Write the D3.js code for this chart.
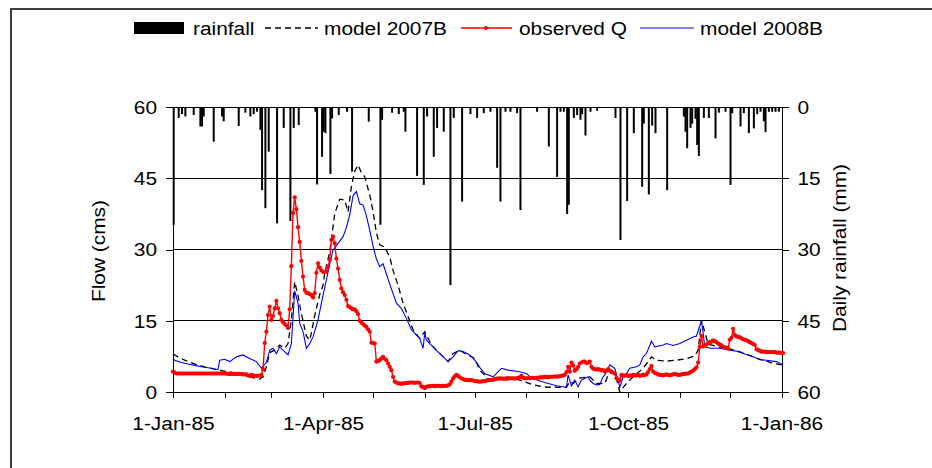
<!DOCTYPE html>
<html>
<head>
<meta charset="utf-8">
<script src="https://cdn.jsdelivr.net/npm/d3@7"></script>
<style>
  body { margin: 0; background: #fff; }
  svg { display: block; }
  text { font-family: "Liberation Sans", Arial, sans-serif; font-size: 18px; fill: #000; }
</style>
</head>
<body>
<svg id="chart" width="932" height="468"></svg>
<script>
// ---- data -------------------------------------------------------------
const startDay = Date.UTC(1985, 0, 1);
const endDay = Date.UTC(1986, 0, 1);

const tickLabels = ["1-Jan-85", "1-Apr-85", "1-Jul-85", "1-Oct-85", "1-Jan-86"];
const flowTicks = [0, 15, 30, 45, 60];
const rainTicks = [0, 15, 30, 45, 60];

const legendNames = ["rainfall", "model 2007B", "observed Q", "model 2008B"];

// daily rainfall (day of year from 1 Jan 1985, mm)
const rainDay = [0, 3, 5, 7, 12, 16, 17, 18, 24, 29, 30, 39, 43, 46, 48, 50, 52, 53, 55, 57,
  62, 66, 70, 72, 75, 85, 86, 89, 90, 91, 94, 95, 99, 104, 107, 117, 124, 125, 131, 135,
  138, 139, 146, 150, 152, 156, 158, 162, 166, 168, 173, 178, 182, 186, 190, 194, 196, 199, 202, 206,
  208, 218, 225, 230, 232, 234, 236, 237, 240, 242, 244, 245, 247, 250, 254, 265, 268, 272, 276, 281,
  282, 285, 287, 289, 296, 306, 307, 308, 310, 311, 313, 314, 315, 318, 321, 325, 327, 331, 334, 335,
  340, 342, 345, 348, 350, 352, 354, 355, 357, 359, 361, 363];
const rainMm = [24.8, 2.3, 1.5, 2.0, 1.7, 4.1, 4.1, 2.0, 7.3, 2.0, 3.0, 4.0, 1.2, 2.0, 1.5, 1.0, 4.8, 17.5, 21.3, 9.4,
  24.5, 4.4, 24.0, 4.4, 3.8, 1.0, 16.3, 10.5, 5.2, 5.5, 14.1, 2.4, 1.7, 1.0, 13.6, 3.1, 24.8, 2.7, 1.2, 1.5,
  1.0, 5.2, 14.5, 16.4, 2.0, 10.5, 4.4, 5.2, 37.5, 2.3, 19.9, 1.5, 2.3, 1.3, 1.0, 12.8, 19.9, 1.0, 1.0, 1.3,
  21.7, 1.0, 8.3, 14.7, 1.0, 1.0, 22.5, 20.6, 2.3, 1.7, 2.7, 1.5, 6.0, 1.0, 0.8, 2.3, 28.0, 19.8, 5.5, 16.8,
  3.5, 18.4, 3.9, 5.5, 17.5, 2.0, 5.2, 8.7, 4.4, 3.5, 2.5, 8.0, 10.3, 2.3, 2.3, 6.6, 1.2, 1.0, 16.4, 1.3,
  4.1, 1.3, 5.5, 4.5, 1.5, 1.0, 3.0, 5.3, 1.0, 1.0, 1.0, 1.0];

// observed daily flow (cms), one value per day from 1 Jan 1985
const observedQ = [
  4.3, 4.1, 3.9, 3.9, 3.9, 3.9, 3.9, 3.9, 3.9, 3.9,
  3.9, 3.9, 3.9, 3.9, 3.9, 3.9, 3.9, 3.9, 3.9, 3.9,
  3.9, 3.9, 3.9, 3.9, 3.9, 3.9, 3.9, 3.9, 3.9, 3.9,
  3.9, 3.9, 3.9, 3.8, 3.8, 3.8, 3.8, 3.8, 3.8, 3.8,
  3.8, 3.8, 3.7, 3.7, 3.7, 3.5, 3.4, 3.6, 3.5, 3.4,
  3.4, 3.4, 3.4, 3.6, 4.8, 10.3, 12.7, 16.2, 18.0, 15.2,
  16.0, 17.6, 19.2, 17.6, 16.6, 15.2, 14.7, 14.3, 14.0, 13.5,
  17.4, 26.5, 37.7, 41.0, 38.5, 34.7, 31.6, 27.6, 24.3, 21.5,
  20.9, 20.8, 20.6, 20.4, 19.9, 20.8, 25.1, 27.1, 26.2, 25.6,
  25.3, 25.3, 25.3, 26.3, 27.8, 32.0, 32.7, 31.3, 28.1, 26.0,
  23.6, 21.8, 21.0, 20.4, 19.4, 18.1, 17.9, 17.6, 17.4, 17.4,
  17.0, 16.4, 15.0, 14.6, 14.3, 14.0, 13.7, 13.2, 12.7, 10.4,
  10.3, 10.2, 6.4, 6.5, 6.7, 7.1, 7.4, 7.0, 6.7, 6.0,
  5.3, 4.6, 3.2, 2.2, 2.0, 1.8, 1.8, 1.7, 1.8, 1.8,
  1.9, 1.9, 2.0, 2.0, 2.0, 1.9, 2.0, 2.0, 1.9, 1.2,
  1.1, 0.8, 1.1, 1.2, 1.2, 1.3, 1.3, 1.2, 1.3, 1.3,
  1.3, 1.2, 1.3, 1.3, 1.3, 1.4, 1.6, 2.2, 2.8, 3.3,
  3.6, 3.4, 3.1, 2.9, 2.7, 2.6, 2.5, 2.5, 2.5, 2.5,
  2.4, 2.3, 2.3, 2.2, 2.2, 2.2, 2.3, 2.3, 2.4, 2.5,
  2.5, 2.5, 2.6, 2.7, 2.8, 2.8, 2.9, 2.8, 2.8, 2.8,
  2.8, 2.8, 2.9, 2.9, 2.9, 2.8, 2.9, 3.0, 3.1, 3.4,
  3.0, 2.9, 2.9, 2.9, 2.9, 3.0, 3.0, 2.9, 3.0, 3.0,
  3.1, 3.1, 3.1, 3.2, 3.2, 3.1, 3.2, 3.2, 3.2, 3.3,
  3.2, 3.3, 3.3, 3.4, 3.5, 3.6, 4.2, 5.3, 4.3, 6.2,
  5.6, 4.5, 4.8, 5.3, 6.0, 6.2, 6.4, 6.4, 6.1, 6.2,
  6.4, 5.3, 4.9, 4.8, 4.7, 4.8, 4.7, 4.6, 4.6, 4.3,
  4.5, 4.8, 4.5, 4.3, 4.1, 3.9, 2.9, 2.6, 2.4, 3.6,
  3.5, 3.4, 3.6, 3.4, 3.4, 3.5, 3.6, 3.5, 3.5, 3.6,
  3.4, 3.5, 3.6, 3.6, 3.7, 4.2, 4.8, 5.5, 4.3, 4.0,
  3.9, 3.7, 3.6, 3.6, 3.5, 3.6, 3.7, 3.6, 3.5, 3.6,
  3.7, 3.8, 3.7, 3.6, 3.6, 3.7, 3.8, 3.8, 3.9, 3.9,
  4.1, 4.3, 4.5, 4.8, 5.2, 6.2, 9.5, 11.8, 9.6, 9.8,
  10.0, 10.3, 10.5, 10.6, 10.9, 10.7, 10.5, 10.2, 10.0, 9.8,
  9.5, 9.4, 9.3, 9.2, 11.0, 11.4, 13.3, 12.0, 11.7, 11.6,
  11.5, 11.3, 11.1, 11.0, 10.9, 10.7, 10.5, 10.3, 10.1, 9.9,
  9.0, 8.8, 8.7, 8.5, 8.5, 8.5, 8.4, 8.4, 8.4, 8.4,
  8.4, 8.4, 8.3, 8.3, 8.3, 8.2, 8.2];

// simulated flow, model 2007B (day of year, cms)
const model2007Day = [0, 3, 7, 13, 19, 27, 33, 39, 45, 49, 52, 54, 56, 58, 61, 64, 67, 69, 71, 73,
  75, 77, 80, 82, 83, 85, 88, 90, 91, 94, 97, 100, 103, 105, 107, 109, 111, 113, 115, 118,
  120, 122, 124, 127, 130, 132, 135, 138, 141, 144, 148, 151, 155, 158, 165, 168, 172, 176, 181, 184,
  190, 196, 200, 208, 216, 224, 236, 238, 240, 244, 250, 254, 259, 261, 264, 266, 268, 272, 276, 282,
  287, 290, 296, 302, 308, 313, 315, 317, 319, 321, 327, 333, 339, 345, 351, 357, 360, 366];
const model2007Q = [8.0, 7.4, 6.7, 5.9, 5.3, 4.6, 4.3, 3.9, 3.4, 2.9, 2.7, 3.2, 5.3, 8.3, 8.8, 9.9, 9.2, 10.2, 15.2, 23.2,
  20.3, 16.5, 11.8, 10.9, 12.4, 16.1, 20.5, 22.5, 25.0, 29.5, 37.5, 40.6, 40.4, 37.9, 43.2, 46.5, 47.8, 46.2, 45.3, 41.5,
  38.0, 33.5, 31.0, 30.5, 28.4, 25.6, 22.5, 18.7, 15.9, 13.1, 11.3, 12.7, 9.9, 8.8, 6.4, 8.1, 8.8, 7.9, 7.1, 4.6,
  2.5, 2.9, 3.2, 2.5, 1.5, 1.0, 1.0, 2.2, 1.8, 2.9, 3.2, 1.8, 1.8, 3.6, 4.3, 2.9, 0.0, 1.8, 3.2, 5.0,
  7.4, 6.7, 6.5, 6.7, 7.0, 7.6, 8.8, 15.1, 12.6, 10.1, 9.5, 9.2, 8.5, 7.8, 7.0, 6.4, 6.0, 5.7];

// simulated flow, model 2008B (day of year, cms)
const model2008Day = [0, 1, 5, 9, 13, 17, 23, 27, 28, 31, 34, 38, 42, 45, 50, 53, 56, 58, 60, 62,
  64, 66, 69, 71, 73, 75, 76, 78, 80, 82, 84, 87, 89, 92, 94, 96, 99, 102, 104, 106,
  108, 110, 112, 114, 116, 118, 120, 122, 124, 126, 130, 134, 137, 140, 143, 146, 148, 150, 151, 152,
  154, 156, 160, 165, 168, 171, 174, 178, 181, 184, 187, 192, 197, 201, 207, 212, 215, 223, 230, 236,
  237, 239, 241, 243, 245, 249, 250, 252, 254, 256, 258, 259, 262, 265, 267, 268, 270, 272, 274, 278,
  280, 282, 284, 287, 289, 294, 296, 300, 304, 308, 312, 314, 317, 318, 319, 322, 328, 334, 340, 342,
  347, 352, 356, 362, 366];
const model2008Q = [7.0, 6.7, 6.2, 5.9, 5.6, 5.3, 5.0, 4.7, 6.7, 6.9, 6.4, 7.4, 7.8, 7.2, 6.4, 5.0, 6.2, 8.8, 9.2, 8.1,
  9.5, 8.8, 7.8, 10.2, 21.3, 18.7, 14.5, 12.7, 9.2, 10.2, 11.6, 15.2, 18.7, 23.6, 26.9, 29.9, 31.3, 32.7, 34.6, 37.3,
  41.3, 42.2, 39.6, 39.4, 37.1, 34.1, 30.7, 28.0, 26.4, 27.0, 22.7, 18.7, 17.6, 15.5, 13.1, 12.0, 11.3, 9.2, 12.4, 10.9,
  10.2, 9.5, 8.1, 6.4, 7.4, 8.7, 8.5, 7.8, 6.7, 5.2, 3.9, 3.2, 5.0, 4.6, 4.3, 3.9, 2.9, 2.0, 1.3, 1.0,
  3.6, 1.3, 2.5, 1.1, 2.5, 3.2, 2.5, 1.8, 1.5, 1.6, 3.2, 3.6, 5.7, 5.0, 2.5, 1.0, 3.2, 3.9, 5.0, 5.3,
  5.7, 7.4, 8.1, 10.7, 9.5, 9.9, 10.2, 9.8, 10.2, 10.9, 11.6, 11.8, 15.0, 12.4, 9.5, 9.2, 9.2, 8.8, 8.5, 8.1,
  7.6, 6.8, 6.7, 6.4, 5.7];

// ---- layout ----------------------------------------------------------
const plot = { left: 173, right: 781.5, top: 107, bottom: 392 };
const SX = 1.16;           // horizontal stretch of the chart lettering
const svg = d3.select("#chart");

svg.append("rect").attr("width", 932).attr("height", 468).attr("fill", "#fff");
// outer chart frame
svg.append("rect")
  .attr("x", 11).attr("y", 9).attr("width", 960).attr("height", 500)
  .attr("fill", "none").attr("stroke", "#3f3f3f").attr("stroke-width", 2);

const day = d => new Date(startDay + d * 864e5);

const x = d3.scaleUtc().domain([new Date(startDay), new Date(endDay)]).range([plot.left, plot.right]);
const yFlow = d3.scaleLinear().domain([0, 60]).range([plot.bottom, plot.top]);
const yRain = d3.scaleLinear().domain([0, 60]).range([plot.top, plot.bottom]);

// horizontal gridlines
svg.append("g").selectAll("line")
  .data(flowTicks.filter(v => v > 0))
  .join("line")
  .attr("x1", plot.left).attr("x2", plot.right)
  .attr("y1", d => yFlow(d)).attr("y2", d => yFlow(d))
  .attr("stroke", "#000").attr("stroke-width", 1).attr("shape-rendering", "crispEdges");

// rainfall bars hanging from the top
svg.append("g").selectAll("rect")
  .data(rainDay.map((d, i) => ({ d, v: rainMm[i] })))
  .join("rect")
  .attr("x", r => x(day(r.d)) - 0.3)
  .attr("width", 2)
  .attr("y", yRain(0))
  .attr("height", r => yRain(r.v) - yRain(0))
  .attr("fill", "#000");

// axes
function styleAxis(g) {
  g.attr("font-size", null).attr("font-family", null);
  g.selectAll("path, line").attr("stroke", "#000").attr("shape-rendering", "crispEdges");
}

const axL = svg.append("g").attr("transform", `translate(${plot.left},0)`)
  .call(d3.axisLeft(yFlow).tickValues(flowTicks).tickSize(7).tickSizeOuter(0).tickFormat(d => String(d)))
  .call(styleAxis);
axL.selectAll("text").attr("x", null).attr("dy", "0.35em")
  .attr("transform", `translate(-16,0) scale(${SX},1)`);

const axR = svg.append("g").attr("transform", `translate(${plot.right},0)`)
  .call(d3.axisRight(yRain).tickValues(rainTicks).tickSize(7).tickSizeOuter(0).tickFormat(d => String(d)))
  .call(styleAxis);
axR.selectAll("text").attr("x", null).attr("dy", "0.35em")
  .attr("transform", `translate(16,0) scale(${SX},1)`);

const quarterLabel = d => {
  const m = d.getUTCMonth();
  if (m % 3 !== 0) return "";
  return tickLabels[(d.getUTCFullYear() - 1985) * 4 + m / 3] || "";
};
const axB = svg.append("g").attr("transform", `translate(0,${plot.bottom})`)
  .call(d3.axisBottom(x).ticks(d3.utcMonth.every(1)).tickSize(6).tickSizeOuter(0).tickFormat(quarterLabel))
  .call(styleAxis);
axB.selectAll("text").attr("y", null).attr("dy", null)
  .attr("transform", `translate(0,38) scale(${SX},1)`);

// axis titles
svg.append("text").attr("text-anchor", "middle")
  .attr("transform", `translate(105,251) rotate(-90) scale(${SX},1)`)
  .text("Flow (cms)");
svg.append("text").attr("text-anchor", "middle")
  .attr("transform", `translate(846,248) rotate(-90) scale(${SX},1)`)
  .text("Daily rainfall (mm)");

// flow series
const flowLine = d3.line().x(p => x(day(p[0]))).y(p => yFlow(p[1]));
const obsPts = observedQ.map((v, i) => [i, v]);
const m07Pts = model2007Day.map((d, i) => [d, model2007Q[i]]);
const m08Pts = model2008Day.map((d, i) => [d, model2008Q[i]]);

svg.append("path").datum(m07Pts).attr("d", flowLine)
  .attr("fill", "none").attr("stroke", "#000").attr("stroke-width", 1.3).attr("stroke-dasharray", "6,4");
svg.append("path").datum(m08Pts).attr("d", flowLine)
  .attr("fill", "none").attr("stroke", "#0000ff").attr("stroke-width", 1.1);
svg.append("path").datum(obsPts).attr("d", flowLine)
  .attr("fill", "none").attr("stroke", "#ff0000").attr("stroke-width", 1.4);
svg.append("g").selectAll("circle").data(obsPts).join("circle")
  .attr("cx", p => x(day(p[0]))).attr("cy", p => yFlow(p[1])).attr("r", 2.1)
  .attr("fill", "#ff0000");

// legend
const lg = svg.append("g");
const ly = 28, lb = 35;
lg.append("rect").attr("x", 134).attr("y", 22).attr("width", 50).attr("height", 12).attr("fill", "#000");
lg.append("line").attr("x1", 265).attr("x2", 318).attr("y1", ly).attr("y2", ly)
  .attr("stroke", "#000").attr("stroke-width", 1.3).attr("stroke-dasharray", "6,4");
lg.append("line").attr("x1", 461).attr("x2", 512).attr("y1", ly).attr("y2", ly)
  .attr("stroke", "#ff0000").attr("stroke-width", 1.4);
lg.append("circle").attr("cx", 486).attr("cy", ly).attr("r", 2.1).attr("fill", "#ff0000");
lg.append("line").attr("x1", 640).attr("x2", 694).attr("y1", ly).attr("y2", ly)
  .attr("stroke", "#0000ff").attr("stroke-width", 1.1);
const labelX = [193, 324, 519, 700];
legendNames.forEach((t, i) => {
  lg.append("text").attr("transform", `translate(${labelX[i]},${lb}) scale(${SX},1)`).text(t);
});
</script>
</body>
</html>
